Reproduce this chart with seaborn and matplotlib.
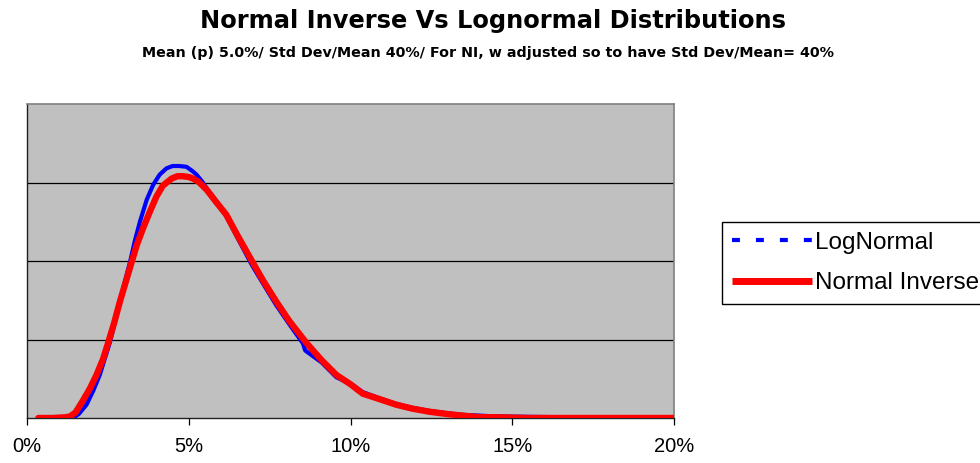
import matplotlib
matplotlib.use("Agg")
import matplotlib.pyplot as plt
import seaborn as sns
from matplotlib.lines import Line2D
from matplotlib.ticker import PercentFormatter

# Default rate (%) and relative frequency of simulated outcomes
ln_rate = [0.35, 1.3, 1.45, 1.6, 1.84, 2.05, 2.25, 2.4, 2.56, 2.72, 2.87, 3.02, 3.18,
           3.33, 3.49, 3.7, 3.9, 4.1, 4.31, 4.5, 4.7, 4.93, 5.1, 5.24, 5.4, 5.55,
           5.85, 6.16, 6.5, 6.95, 7.3, 7.7, 8.1, 8.53, 8.6, 9.1, 9.56, 10.07, 10.38,
           10.9, 11.41, 11.9, 12.44, 13.0, 13.47, 14.0, 14.5, 15.5, 16.5, 17.0, 20.0]
ln_freq = [0.0, 0.0, 0.01, 0.05, 0.17, 0.35, 0.55, 0.75, 0.96, 1.22, 1.48, 1.73, 1.98,
           2.25, 2.50, 2.78, 2.97, 3.10, 3.18, 3.21, 3.21, 3.20, 3.15, 3.10, 3.02, 2.93,
           2.76, 2.57, 2.30, 1.95, 1.71, 1.44, 1.20, 0.95, 0.86, 0.71, 0.52, 0.42, 0.33,
           0.25, 0.18, 0.13, 0.09, 0.06, 0.04, 0.03, 0.02, 0.015, 0.01, 0.0, 0.0]

ni_rate = [0.35, 0.8, 1.2, 1.33, 1.5, 1.74, 1.95, 2.15, 2.35, 2.51, 2.7, 2.87, 3.05,
           3.23, 3.4, 3.59, 3.8, 4.0, 4.2, 4.47, 4.65, 4.82, 5.0, 5.13, 5.3, 5.55,
           5.85, 6.16, 6.5, 6.98, 7.3, 7.71, 8.1, 8.63, 9.1, 9.56, 10.0, 10.38, 10.9,
           11.41, 11.9, 12.44, 13.0, 13.47, 14.0, 14.5, 15.5, 20.0]
ni_freq = [0.0, 0.0, 0.01, 0.02, 0.07, 0.23, 0.38, 0.55, 0.75, 0.96, 1.22, 1.48, 1.73,
           1.98, 2.21, 2.42, 2.63, 2.82, 2.96, 3.05, 3.08, 3.08, 3.07, 3.05, 3.01, 2.91,
           2.75, 2.59, 2.33, 1.98, 1.75, 1.48, 1.24, 0.96, 0.74, 0.55, 0.43, 0.31, 0.24,
           0.17, 0.12, 0.08, 0.05, 0.03, 0.01, 0.01, 0.0, 0.0]

x_ticks = [0, 5, 10, 15, 20]
series_names = ["LogNormal", "Normal Inverse"]
title = "Normal Inverse Vs Lognormal Distributions"
subtitle = "Mean (p) 5.0%/ Std Dev/Mean 40%/ For NI, w adjusted so to have Std Dev/Mean= 40%"

BLUE = "#0000FF"
RED = "#FF0000"

sns.set_theme(style="white")
plt.rcParams["font.family"] = ["Liberation Sans", "DejaVu Sans"]
plt.rcParams["text.color"] = "black"
plt.rcParams["xtick.color"] = "black"

fig = plt.figure(figsize=(9.8, 4.63), dpi=100)
ax = fig.add_axes([27 / 980, 45 / 463, (674 - 27) / 980, (418 - 104) / 463])
ax.set_facecolor("#C0C0C0")

sns.lineplot(x=ln_rate, y=ln_freq, ax=ax, color=BLUE, lw=3, sort=False,
             estimator=None, zorder=3, legend=False)
sns.lineplot(x=ni_rate, y=ni_freq, ax=ax, color=RED, lw=4.6, sort=False,
             estimator=None, zorder=4, legend=False)

ax.set_xlim(0, 20)
ax.set_ylim(0, 4)
ax.set_xticks(x_ticks)
ax.xaxis.set_major_formatter(PercentFormatter(100, decimals=0))
ax.set_yticks([1, 2, 3])
ax.set_yticklabels([])
ax.yaxis.grid(True, color="black", lw=0.9)
ax.xaxis.grid(False)
ax.set_axisbelow(True)
ax.tick_params(axis="y", length=0)
ax.tick_params(axis="x", length=5, width=0.9, direction="out", color="black",
               labelcolor="black", labelsize=14.5, pad=9, bottom=True)
ax.set_xlabel("")
ax.set_ylabel("")

for side in ("left", "bottom"):
    ax.spines[side].set_color("#202020")
    ax.spines[side].set_linewidth(1.0)
for side in ("top", "right"):
    ax.spines[side].set_color("#808080")
    ax.spines[side].set_linewidth(1.2)

fig.text(493 / 980, 1 - 21 / 463, title, ha="center", va="center",
         fontsize=17.4, fontweight="bold", family=["DejaVu Sans"], color="black")
fig.text(488 / 980, 1 - 53 / 463, subtitle, ha="center", va="center",
         fontsize=10.3, fontweight="bold", family=["DejaVu Sans"], color="black")

handles = [
    Line2D([], [], color=BLUE, lw=3, linestyle=(0, (1.9, 3.85)), dash_capstyle="butt"),
    Line2D([], [], color=RED, lw=5, solid_capstyle="butt"),
]
leg = fig.legend(handles=handles, labels=series_names, loc="upper left",
                 bbox_to_anchor=(722 / 980, 1 - 222 / 463), borderaxespad=0,
                 frameon=True, fancybox=False, edgecolor="black", facecolor="white",
                 framealpha=1, fontsize=17.5, handlelength=3.3, handletextpad=0.12,
                 borderpad=0.4, labelspacing=0.76)
leg.get_frame().set_linewidth(1.0)
for t in leg.get_texts():
    t.set_color("black")

fig.savefig("out.png", dpi=100, facecolor="white")
